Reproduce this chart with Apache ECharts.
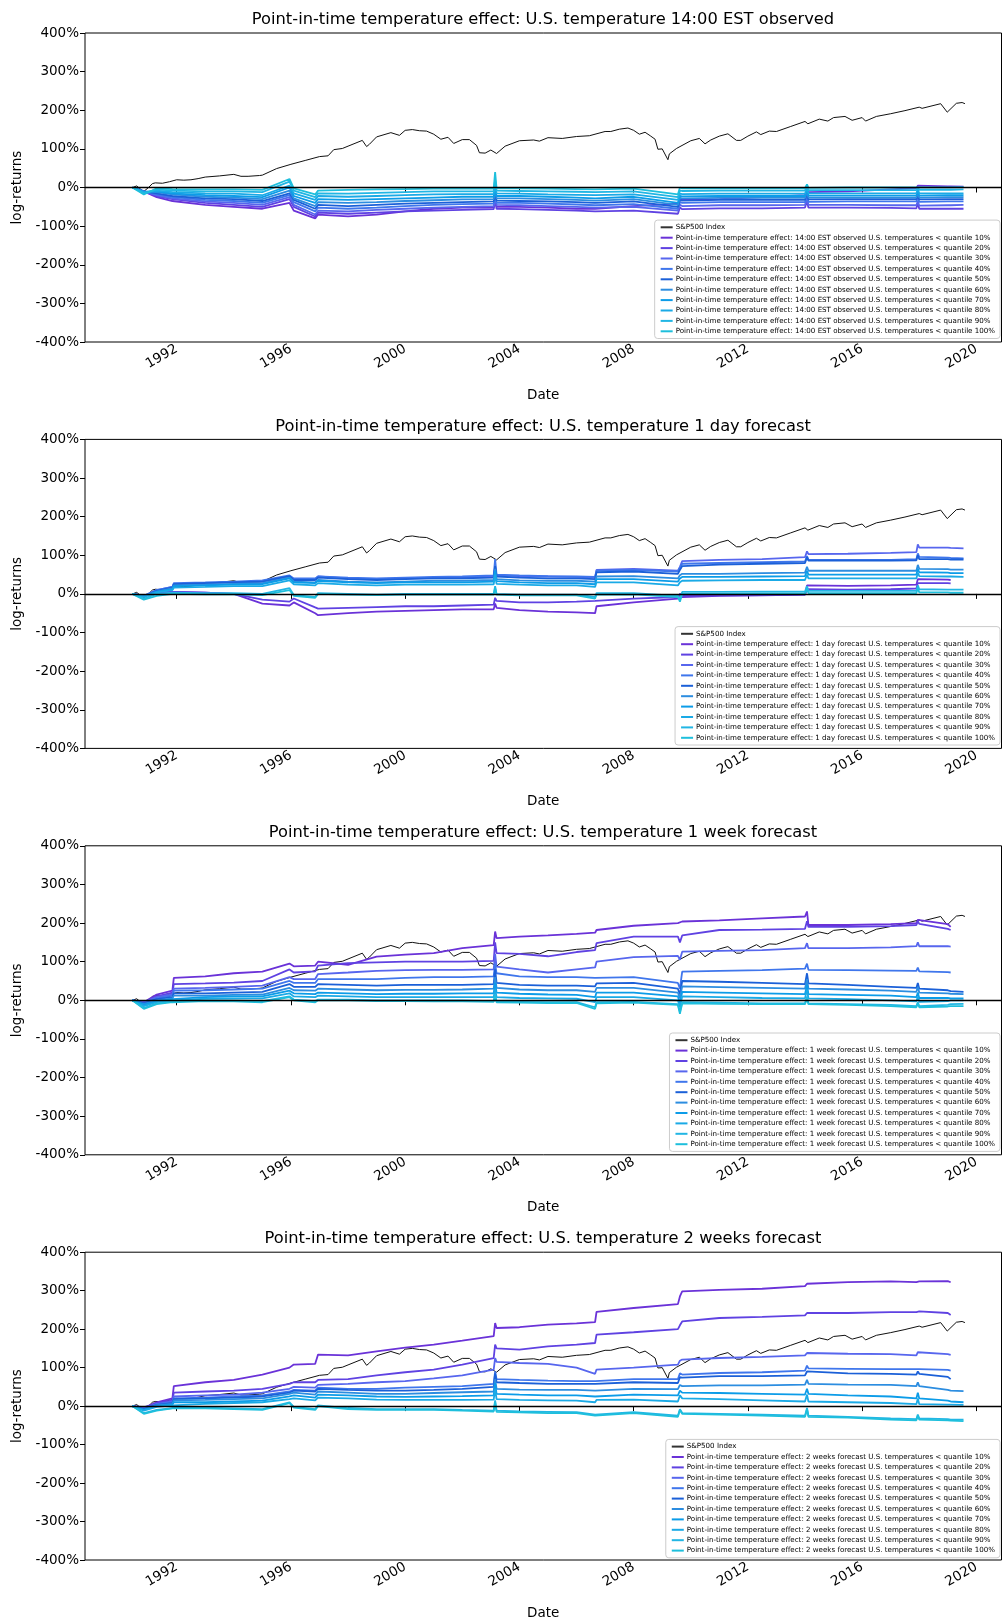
<!DOCTYPE html>
<html>
<head>
<meta charset="utf-8">
<script src="https://cdn.jsdelivr.net/npm/echarts@6/dist/echarts.min.js"></script>
<style>
html,body{margin:0;padding:0;background:#fff;}
#chart{width:1003px;height:1621px;}
</style>
</head>
<body>
<div id="chart"></div>
<script>
// ---------- DATA ----------
const horizons = ['14:00 EST observed', '1 day forecast', '1 week forecast', '2 weeks forecast'];
const quantiles = [10, 20, 30, 40, 50, 60, 70, 80, 90, 100];
const yTicks = [-400, -300, -200, -100, 0, 100, 200, 300, 400];
const xTickYears = [1992, 1996, 2000, 2004, 2008, 2012, 2016, 2020];

// S&P500 cumulative log-returns (%), decimal-year dates
const spDates = [1990.45,1990.6,1990.75,1990.85,1991.0,1991.15,1991.25,1991.5,1991.75,1992.0,1992.25,1992.5,1992.75,1993.0,1993.5,1994.0,1994.25,1994.5,1994.9,1995.0,1995.5,1996.0,1996.5,1997.0,1997.3,1997.5,1997.8,1998.0,1998.5,1998.65,1998.75,1999.0,1999.5,1999.8,2000.0,2000.25,2000.5,2000.75,2001.0,2001.25,2001.5,2001.7,2002.0,2002.25,2002.5,2002.6,2002.8,2003.0,2003.2,2003.5,2004.0,2004.5,2004.7,2005.0,2005.5,2006.0,2006.45,2007.0,2007.2,2007.5,2007.8,2008.0,2008.2,2008.4,2008.6,2008.75,2008.85,2009.0,2009.2,2009.25,2009.5,2010.0,2010.3,2010.5,2010.7,2011.0,2011.3,2011.6,2011.75,2012.0,2012.3,2012.45,2012.75,2013.0,2013.5,2014.0,2014.1,2014.5,2014.8,2015.0,2015.4,2015.65,2016.0,2016.12,2016.5,2017.0,2017.5,2018.0,2018.1,2018.75,2018.98,2019.3,2019.5,2019.6];
const spValues = [0,4,-5,-10,-1,10,12,11,15,20,19,20,23,27,30,34,29,29,31,32,49,60,70,80,82,98,101,107,122,106,112,131,142,135,148,150,147,146,138,125,130,114,124,124,109,90,89,97,88,107,121,123,120,129,127,132,134,145,145,151,154,148,138,143,133,125,99,100,72,87,101,121,127,113,123,133,139,122,122,133,144,137,146,145,158,171,165,177,172,181,184,174,181,172,184,191,199,208,205,217,195,218,220,217];

// Shared dates of the quantile strategies (decimal years)
const qDates = [1990.45,1990.85,1991.3,1991.85,1991.9,1993.0,1994.0,1995.0,1995.95,1996.1,1996.85,1996.95,1998.0,1999.0,2000.0,2001.0,2002.0,2003.1,2003.15,2003.2,2004.0,2005.0,2006.0,2006.65,2006.7,2008.0,2009.55,2009.62,2009.7,2011.0,2012.5,2014.0,2014.07,2014.12,2015.5,2017.0,2017.9,2017.95,2018.0,2019.0,2019.1,2019.55];

// Panel 1: 14:00 EST observed
const obsQ10  = [0,-10,-25,-35,-40,-45,-50,-55,-40,-60,-80,-70,-75,-70,-62,-55,-52,-52,-25,-50,-50,-52,-55,-55,-52,-48,-42,-30,-32,-30,-25,-20,-5,-12,-10,-5,-2,5,2,3,3,2];
const obsQ20  = [0,-10,-22,-30,-35,-40,-45,-50,-30,-50,-75,-65,-68,-65,-62,-60,-58,-56,-30,-55,-56,-58,-60,-62,-62,-60,-68,-52,-56,-54,-54,-52,-35,-52,-52,-53,-54,-40,-55,-55,-55,-55];
const obsQ30  = [0,-10,-20,-28,-32,-36,-40,-45,-25,-45,-70,-60,-62,-58,-55,-52,-50,-48,-28,-45,-46,-48,-50,-52,-52,-50,-60,-45,-48,-46,-46,-45,-28,-45,-45,-46,-46,-35,-47,-46,-46,-45];
const obsQ40  = [0,-10,-18,-25,-28,-32,-35,-40,-20,-38,-62,-52,-55,-52,-48,-45,-43,-42,-20,-40,-40,-42,-44,-46,-45,-43,-55,-38,-40,-38,-38,-38,-20,-37,-36,-36,-36,-25,-37,-36,-36,-36];
const obsQ50  = [0,-10,-15,-22,-24,-28,-30,-35,-15,-32,-55,-45,-48,-45,-42,-40,-38,-36,-15,-34,-35,-36,-38,-40,-38,-36,-50,-32,-34,-32,-32,-32,-15,-31,-30,-30,-30,-20,-31,-30,-30,-30];
const obsQ60  = [0,-10,-12,-18,-20,-24,-26,-30,-8,-28,-48,-38,-40,-38,-35,-33,-31,-30,-10,-28,-28,-30,-32,-34,-32,-30,-45,-27,-28,-27,-27,-27,-10,-26,-26,-26,-26,-15,-26,-25,-25,-25];
const obsQ70  = [0,-12,-10,-15,-16,-20,-22,-25,0,-22,-40,-30,-32,-30,-28,-26,-24,-24,-5,-22,-22,-24,-26,-28,-26,-24,-40,-22,-23,-22,-22,-22,-5,-21,-21,-21,-21,-10,-21,-20,-20,-20];
const obsQ80  = [0,-12,-8,-12,-12,-15,-16,-20,5,-15,-32,-22,-24,-22,-20,-18,-17,-17,5,-15,-16,-18,-19,-20,-19,-18,-32,-16,-17,-16,-16,-16,0,-15,-15,-15,-15,-5,-15,-15,-15,-15];
const obsQ90  = [0,-15,-5,-8,-8,-10,-10,-12,15,-8,-25,-15,-16,-14,-12,-10,-10,-10,20,-8,-9,-10,-11,-12,-11,-10,-25,-8,-9,-8,-8,-8,5,-7,-7,-7,-7,0,-6,-6,-6,-5];
const obsQ100 = [0,-18,-2,-4,-4,-5,-5,-6,22,-2,-18,-8,-6,-5,-4,-3,-3,-3,40,-2,-2,-3,-4,-5,-4,-3,-18,0,-2,-2,-2,-2,8,-1,0,0,0,5,0,0,0,1];

// Panel 2: 1 day forecast
const dayQ10  = [0,-5,3,5,5,3,0,-25,-30,-22,-50,-55,-50,-46,-44,-42,-40,-40,-25,-36,-42,-46,-48,-50,-32,-22,-12,0,-8,-5,-4,-2,22,20,21,22,24,38,37,37,36,null];
const dayQ20  = [0,-5,3,5,5,3,0,-15,-20,-12,-35,-38,-36,-34,-32,-32,-30,-28,-10,-18,-22,-22,-20,-18,-15,-12,-8,0,-5,-4,-3,-2,12,11,11,12,14,28,28,28,27,null];
const dayQ30  = [0,-5,10,18,25,28,30,32,45,38,38,45,40,38,40,42,42,45,70,48,46,45,44,42,62,65,60,70,85,88,90,95,110,103,104,106,108,128,120,120,119,118];
const dayQ40  = [0,-5,10,18,28,30,32,35,48,40,40,45,42,40,42,44,45,48,90,50,48,46,45,44,60,62,58,68,78,80,82,84,98,88,88,88,90,105,96,94,93,92];
const dayQ50  = [0,-6,8,16,25,28,30,32,46,36,36,42,38,36,38,40,40,42,72,45,42,40,40,38,56,58,52,62,72,76,78,80,95,86,86,86,87,100,90,90,89,89];
const dayQ60  = [0,-6,6,14,22,24,26,28,42,32,30,36,32,30,32,34,34,36,65,38,35,34,34,32,45,46,40,48,52,52,54,55,70,60,60,60,60,75,65,64,63,63];
const dayQ70  = [0,-7,5,12,20,22,24,25,40,30,28,34,30,28,30,30,30,32,60,33,30,28,28,25,38,38,32,40,44,44,45,46,60,50,50,50,50,65,56,55,54,54];
const dayQ80  = [0,-8,4,10,16,18,20,20,35,25,22,28,24,22,24,24,24,25,50,26,24,22,22,18,30,30,22,30,34,35,36,36,50,40,40,40,40,55,46,45,45,44];
const dayQ90  = [0,-12,0,3,3,2,2,0,15,-3,-8,2,0,-2,0,0,0,0,20,0,-2,-2,-2,-8,2,2,-5,-15,5,5,6,6,20,8,8,8,8,22,12,11,11,11];
const dayQ100 = [0,-15,-5,0,0,-1,-1,-3,10,-5,-10,0,-2,-3,-2,-2,-2,-2,15,-2,-4,-4,-4,-12,-2,-1,-8,-20,0,0,1,1,12,2,2,2,2,15,4,4,3,3];

// Panel 3: 1 week forecast
const weekQ10  = [0,-5,15,25,58,62,70,74,95,88,90,100,92,113,118,122,135,143,178,161,165,168,172,175,182,193,200,205,204,207,212,217,230,195,195,197,200,208,205,197,190,null];
const weekQ20  = [0,-5,10,20,42,44,46,50,80,72,75,90,96,98,100,100,100,102,150,122,120,114,125,130,148,165,165,150,168,182,183,185,205,190,190,192,195,205,198,185,182,null];
const weekQ30  = [0,-5,8,15,30,32,35,38,60,55,55,68,72,76,78,79,79,80,120,87,80,72,80,85,100,112,115,105,126,128,130,135,148,135,135,137,140,150,140,140,139,null];
const weekQ40  = [0,-8,5,12,25,26,28,30,50,45,45,55,55,55,58,60,60,62,95,70,62,60,60,58,62,60,45,30,74,76,78,82,95,79,78,77,76,85,75,73,72,null];
const weekQ50  = [0,-8,3,8,18,18,20,22,42,35,35,42,40,38,40,40,40,42,80,45,40,38,38,36,44,45,30,15,50,48,45,42,70,44,40,35,32,45,30,26,24,22];
const weekQ60  = [0,-10,0,5,12,12,14,15,32,26,25,30,28,26,27,27,28,30,60,32,28,26,26,22,32,32,20,5,36,34,32,30,55,30,28,25,22,35,20,18,17,16];
const weekQ70  = [0,-12,-2,3,8,8,10,10,25,18,16,20,18,16,17,17,18,18,45,20,17,15,14,8,20,20,10,-8,22,20,18,16,40,16,14,12,8,20,6,6,5,5];
const weekQ80  = [0,-15,-5,0,4,4,5,5,18,10,8,12,10,8,8,8,8,8,30,8,6,5,4,-5,8,8,0,-18,10,8,6,5,28,5,3,0,-3,10,-4,-2,0,0];
const weekQ90  = [0,-20,-8,-3,0,0,0,-2,10,2,-2,2,2,0,0,0,0,-2,15,-3,-4,-5,-5,-18,-5,-4,-10,-30,-5,-6,-8,-8,10,-8,-10,-12,-15,-5,-15,-12,-10,-9];
const weekQ100 = [0,-22,-10,-5,-2,-2,-3,-5,8,0,-5,0,0,-2,-2,-3,-3,-4,12,-5,-6,-7,-7,-22,-8,-6,-12,-35,-8,-9,-10,-10,5,-10,-12,-15,-18,-8,-18,-16,-15,-15];

// Panel 4: 2 weeks forecast
const twoQ10  = [0,-5,10,20,52,62,68,82,100,108,110,134,132,142,152,160,170,182,216,203,205,212,215,218,245,255,265,285,298,302,305,312,318,320,322,324,322,326,324,325,322,null];
const twoQ20  = [0,-3,8,15,35,38,40,45,58,62,62,68,70,80,88,95,108,125,160,150,147,155,160,164,186,192,200,210,220,229,232,236,242,240,242,244,244,248,246,242,237,null];
const twoQ30  = [0,-5,5,12,25,28,30,35,45,50,48,55,58,62,65,72,80,95,125,115,112,110,100,84,95,100,108,118,121,125,128,132,138,137,136,135,132,140,135,135,133,null];
const twoQ40  = [0,-8,5,10,20,22,25,28,38,42,40,48,45,45,48,50,52,58,90,70,68,66,65,65,68,70,70,85,82,86,88,92,105,98,97,96,96,100,96,94,92,null];
const twoQ50  = [0,-8,3,8,18,20,22,25,35,40,38,45,42,40,40,42,45,50,85,62,60,58,58,58,60,62,60,75,74,78,78,80,90,86,85,84,82,90,84,76,70,null];
const twoQ60  = [0,-10,2,6,15,16,18,20,32,35,30,38,35,32,32,34,36,38,70,45,43,42,42,40,43,45,44,55,52,54,54,56,68,58,56,55,52,62,52,42,40,39];
const twoQ70  = [0,-10,0,4,10,10,12,14,25,28,22,30,28,25,24,25,26,28,60,32,30,28,28,25,30,30,28,40,35,34,32,30,45,32,28,25,20,35,20,14,12,10];
const twoQ80  = [0,-12,-2,2,6,6,8,10,18,20,15,22,20,17,16,16,16,17,45,18,16,15,14,10,16,17,12,28,20,18,15,12,30,12,10,8,5,20,5,4,4,3];
const twoQ90  = [0,-18,-10,-5,-3,-4,-6,-8,10,-2,-8,2,-5,-8,-8,-8,-10,-12,15,-12,-14,-15,-16,-22,-18,-16,-25,-8,-18,-20,-22,-25,-5,-25,-28,-32,-34,-22,-32,-34,-35,-35];
const twoQ100 = [0,-20,-12,-6,-4,-6,-8,-10,8,-4,-10,0,-8,-10,-10,-10,-12,-14,10,-15,-16,-18,-18,-25,-20,-18,-28,-10,-20,-22,-25,-28,-8,-28,-30,-35,-37,-25,-35,-37,-38,-39];

const panelSeries = [
  [obsQ10, obsQ20, obsQ30, obsQ40, obsQ50, obsQ60, obsQ70, obsQ80, obsQ90, obsQ100],
  [dayQ10, dayQ20, dayQ30, dayQ40, dayQ50, dayQ60, dayQ70, dayQ80, dayQ90, dayQ100],
  [weekQ10, weekQ20, weekQ30, weekQ40, weekQ50, weekQ60, weekQ70, weekQ80, weekQ90, weekQ100],
  [twoQ10, twoQ20, twoQ30, twoQ40, twoQ50, twoQ60, twoQ70, twoQ80, twoQ90, twoQ100]
];

// ---------- STYLE ----------
const qColors = ['#6a32d8','#5f42e2','#5766ee','#3f76ec','#1b60d8','#2c8de0','#0c9ce8','#1aaae6','#22b6e4','#1ebfdc'];
const FONT = 'DejaVu Sans';
const gridTop0 = 33, gridStep = 406.4, gridH = 309;
const legendBottoms = [1282.5, 876, 469.6, 63.2];

const grids = [], xAxes = [], yAxes = [], titles = [], legends = [], series = [];
horizons.forEach((h, p) => {
  const top = gridTop0 + p * gridStep;
  grids.push({left: 85, width: 916.5, top: top, height: gridH, show: true,
    borderColor: '#000', borderWidth: 1, backgroundColor: 'transparent'});
  titles.push({text: 'Point-in-time temperature effect: U.S. temperature ' + h,
    left: 543, textAlign: 'center', top: top - 21, padding: 0,
    textStyle: {fontFamily: FONT, fontSize: 16.3, fontWeight: 'normal', color: '#000'}});
  xAxes.push({type: 'value', gridIndex: p, min: 1988.79, max: 2020.88,
    name: 'Date', nameLocation: 'middle', nameGap: 46,
    nameTextStyle: {fontFamily: FONT, fontSize: 13.5, color: '#000'},
    axisLine: {show: false}, splitLine: {show: false},
    axisTick: {show: true, length: 5, lineStyle: {color: '#000', width: 1}, customValues: xTickYears},
    axisLabel: {customValues: xTickYears, rotate: 30, margin: 6, fontFamily: FONT, fontSize: 13.5, color: '#000',
      formatter: v => String(Math.round(v)), hideOverlap: false}});
  yAxes.push({type: 'value', gridIndex: p, min: -400, max: 400, interval: 100,
    name: 'log-returns', nameLocation: 'middle', nameGap: 60, nameRotate: 90,
    nameTextStyle: {fontFamily: FONT, fontSize: 13.5, color: '#000'},
    axisLine: {show: false}, splitLine: {show: false},
    axisTick: {show: true, length: 5, lineStyle: {color: '#000', width: 1}},
    axisLabel: {formatter: '{value}%', margin: 6, fontFamily: FONT, fontSize: 13.5, color: '#000'}});

  const names = ['S&P500 Index'];
  series.push({type: 'line', name: 'S&P500 Index', xAxisIndex: p, yAxisIndex: p,
    data: spDates.map((d, i) => [d, spValues[i]]), showSymbol: false, symbol: 'none',
    lineStyle: {color: '#111', width: 1}, itemStyle: {color: '#333'}, z: 2});
  panelSeries[p].forEach((vals, k) => {
    const nm = 'Point-in-time temperature effect: ' + h + ' U.S. temperatures < quantile ' + quantiles[k] + '%';
    names.push(nm);
    const s = {type: 'line', name: nm, xAxisIndex: p, yAxisIndex: p,
      data: qDates.map((d, i) => [d, vals[i]]), showSymbol: false, symbol: 'none', connectNulls: false,
      lineStyle: {color: qColors[k], width: 1.8}, itemStyle: {color: qColors[k]}, z: 2};
    if (k === 9) {
      s.markLine = {silent: true, symbol: 'none', label: {show: false},
        lineStyle: {color: '#000', width: 1.4, type: 'solid'}, data: [{yAxis: 0}], z: 5};
    }
    series.push(s);
  });
  legends.push({data: names, orient: 'vertical', right: 3, bottom: legendBottoms[p],
    itemWidth: 12, itemHeight: 2, itemGap: 0, icon: 'rect',
    padding: [2, 5, 2, 6], borderColor: '#ccc', borderWidth: 1, borderRadius: 3,
    backgroundColor: 'rgba(255,255,255,0.8)',
    textStyle: {fontFamily: FONT, fontSize: 7.1, lineHeight: 10.4, color: '#000', padding: [0,0,0,-2]},
    selectedMode: false});
});

const chart = echarts.init(document.getElementById('chart'), null, {renderer: 'canvas'});
chart.setOption({animation: false, backgroundColor: '#fff', title: titles, grid: grids,
  xAxis: xAxes, yAxis: yAxes, legend: legends, series: series});
</script>
</body>
</html>
